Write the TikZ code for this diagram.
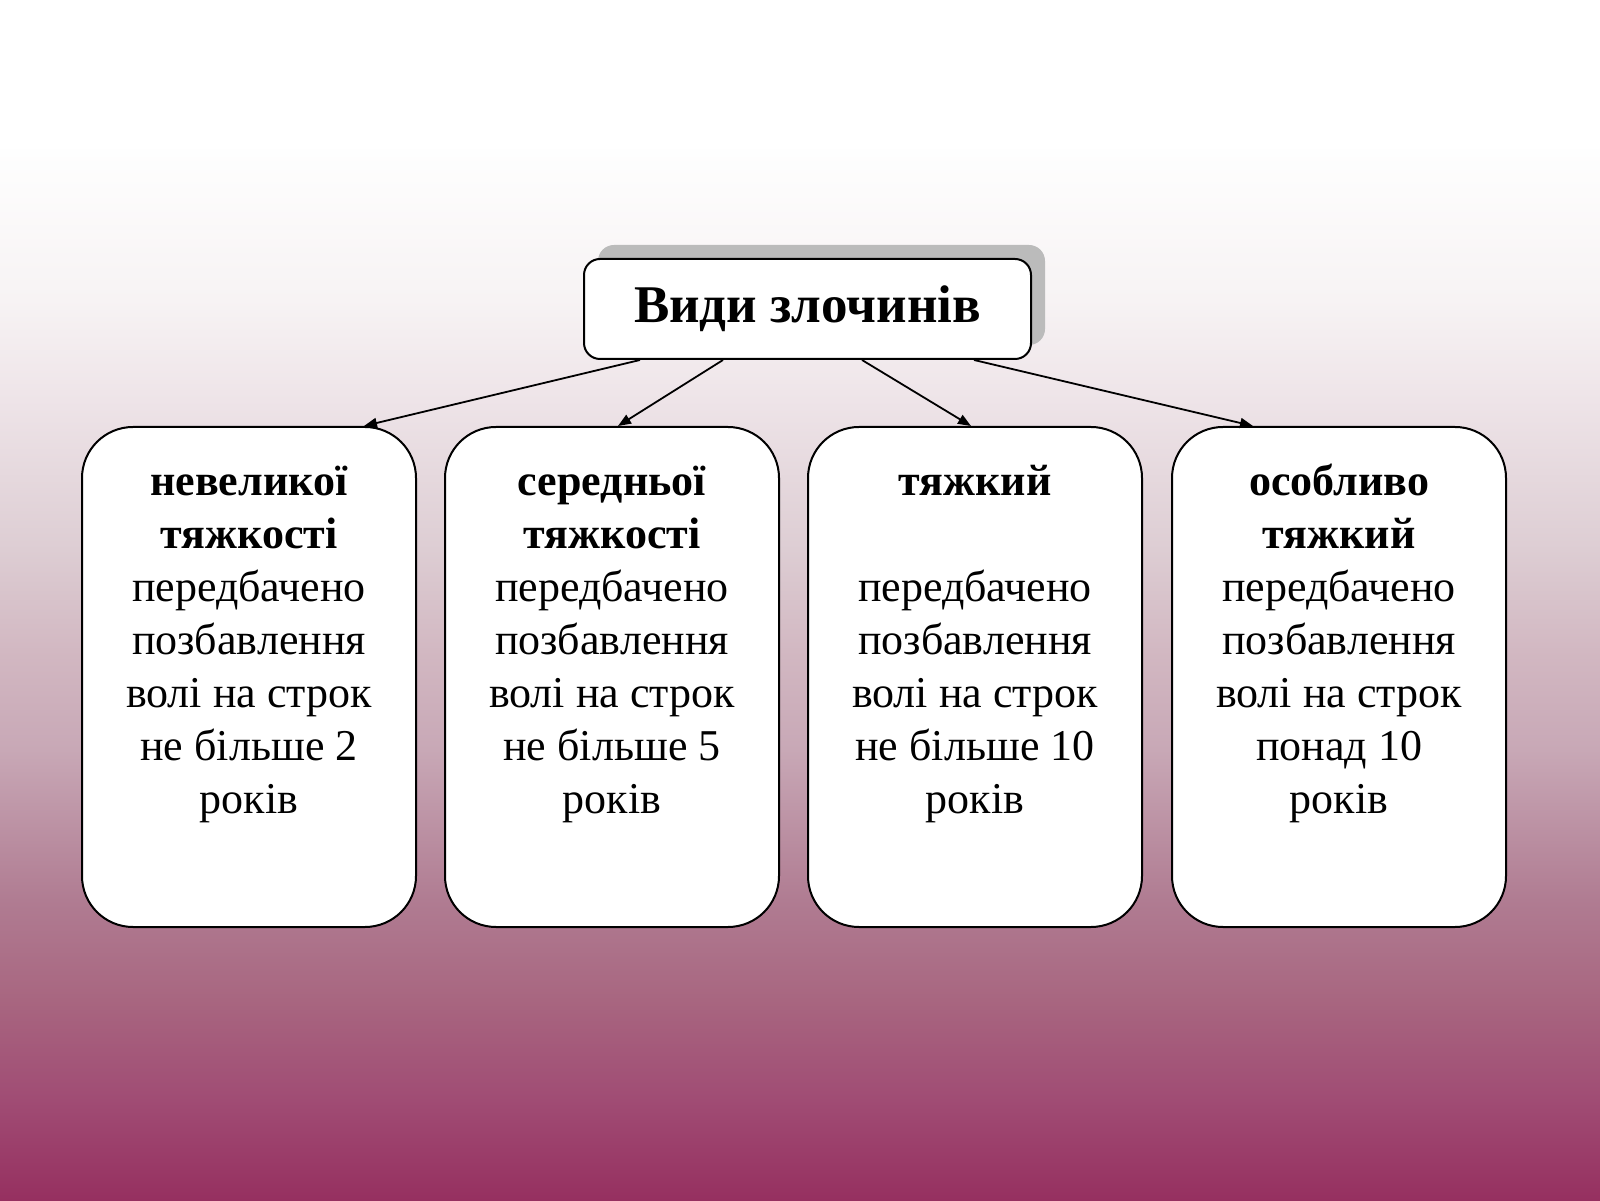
\documentclass[tikz,border=0pt]{standalone}
\usepackage{fontspec}
\setmainfont{Liberation Serif}
\newfontfamily\headsans{Liberation Sans}
\usetikzlibrary{arrows.meta}
\definecolor{g0}{HTML}{FFFFFF}
\definecolor{g1}{HTML}{FEFEFE}
\definecolor{g2}{HTML}{F7F3F4}
\definecolor{g3}{HTML}{EEE4E8}
\definecolor{g4}{HTML}{DDCDD3}
\definecolor{g5}{HTML}{D2B8C2}
\definecolor{g6}{HTML}{C8A8B6}
\definecolor{g7}{HTML}{B07C92}
\definecolor{g8}{HTML}{A86680}
\definecolor{g9}{HTML}{A04C74}
\definecolor{g10}{HTML}{963060}
\definecolor{shadowgray}{HTML}{BBBBBB}
\tikzset{
  band/.style={draw=none},
  titlebox/.style={draw=black, fill=white, line width=2pt, rounded corners=16pt,
    minimum width=447pt, minimum height=100pt, inner sep=0pt,
    font=\fontsize{53}{60}\selectfont\bfseries},
  shadowbox/.style={draw=none, fill=shadowgray, rounded corners=16pt,
    minimum width=447pt, minimum height=100pt, inner sep=0pt},
  catbox/.style={draw=black, fill=white, line width=2pt, rounded corners=51pt,
    minimum width=334pt, minimum height=500pt, inner sep=0pt},
  cattext/.style={anchor=north, inner sep=0pt, align=center,
    font=\fontsize{44}{53}\selectfont},
  conn/.style={line width=1.8pt, -{Triangle[length=13pt,width=10pt]}},
}
\begin{document}
\begin{tikzpicture}[x=1pt,y=1pt]
  % background
  \useasboundingbox (0,0) rectangle (1600,1200);
  \fill[g0] (0,1050) rectangle (1600,1200);
  \shade[band, top color=g1, bottom color=g2] (0,900) rectangle (1600,1050.5);
  \shade[band, top color=g2, bottom color=g3] (0,800) rectangle (1600,900.5);
  \shade[band, top color=g3, bottom color=g4] (0,650) rectangle (1600,800.5);
  \shade[band, top color=g4, bottom color=g5] (0,550) rectangle (1600,650.5);
  \shade[band, top color=g5, bottom color=g6] (0,450) rectangle (1600,550.5);
  \shade[band, top color=g6, bottom color=g7] (0,300) rectangle (1600,450.5);
  \shade[band, top color=g7, bottom color=g8] (0,200) rectangle (1600,300.5);
  \shade[band, top color=g8, bottom color=g9] (0,100) rectangle (1600,200.5);
  \shade[band, top color=g9, bottom color=g10] (0,0) rectangle (1600,100.5);

  % slide heading (white)
  \node[text=white, font=\headsans\fontsize{50}{56}\selectfont] (head) at (801,1113) {Види злочинів};

  % central box with shadow
  \node[shadowbox] (shadow) at (821.5,905) {};
  \node[titlebox] (title) at (807.5,891) {Види злочинів};

  % category boxes
  \node[catbox] (b1) at (249,523) {};
  \node[catbox] (b2) at (612,523) {};
  \node[catbox] (b3) at (975,523) {};
  \node[catbox] (b4) at (1339,523) {};

  \node[cattext] (t1) at ([yshift=-32pt]b1.north)
    {\strut\textbf{невеликої}\\\textbf{тяжкості}\\передбачено\\позбавлення\\волі на строк\\не більше 2\\років};
  \node[cattext] (t2) at ([yshift=-32pt]b2.north)
    {\strut\textbf{середньої}\\\textbf{тяжкості}\\передбачено\\позбавлення\\волі на строк\\не більше 5\\років};
  \node[cattext] (t3) at ([yshift=-32pt]b3.north)
    {\strut\textbf{тяжкий}\\\strut\\передбачено\\позбавлення\\волі на строк\\не більше 10\\років};
  \node[cattext] (t4) at ([yshift=-32pt]b4.north)
    {\strut\textbf{особливо}\\\textbf{тяжкий}\\передбачено\\позбавлення\\волі на строк\\понад 10\\років};

  % connectors
  \draw[conn] ([xshift=57pt]title.south west) -- ([xshift=115pt]b1.north);
  \draw[conn] ([xshift=140pt]title.south west) -- ([xshift=6pt]b2.north);
  \draw[conn] ([xshift=279pt]title.south west) -- ([xshift=-4pt]b3.north);
  \draw[conn] ([xshift=391pt]title.south west) -- ([xshift=-86pt]b4.north);
\end{tikzpicture}
\end{document}
